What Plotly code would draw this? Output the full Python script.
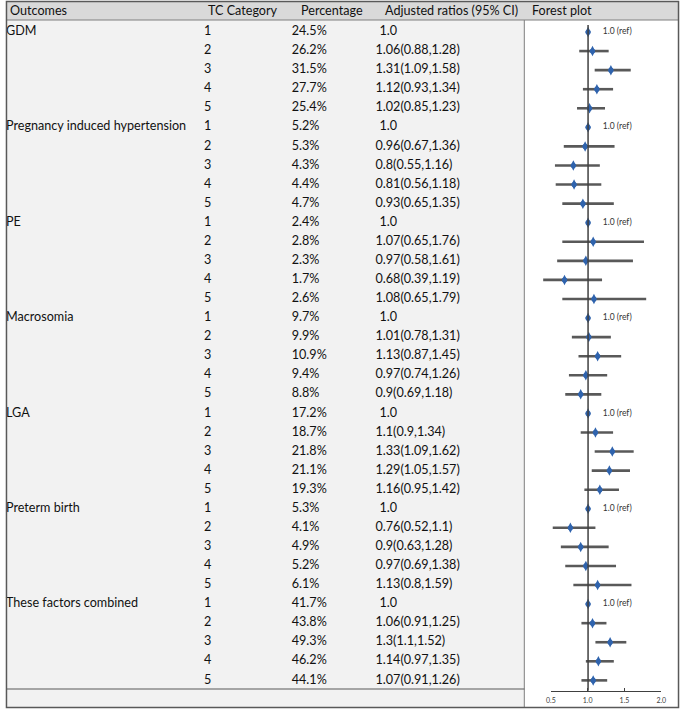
import plotly.graph_objects as go

# ---------------- data ----------------
outcomes = ["GDM", "Pregnancy induced hypertension", "PE", "Macrosomia",
            "LGA", "Preterm birth", "These factors combined"]
tc_categories = ["1", "2", "3", "4", "5"]

percentages = [
    [24.5, 26.2, 31.5, 27.7, 25.4],
    [5.2, 5.3, 4.3, 4.4, 4.7],
    [2.4, 2.8, 2.3, 1.7, 2.6],
    [9.7, 9.9, 10.9, 9.4, 8.8],
    [17.2, 18.7, 21.8, 21.1, 19.3],
    [5.3, 4.1, 4.9, 5.2, 6.1],
    [41.7, 43.8, 49.3, 46.2, 44.1],
]
ratio_est = [
    [1.0, 1.06, 1.31, 1.12, 1.02],
    [1.0, 0.96, 0.8, 0.81, 0.93],
    [1.0, 1.07, 0.97, 0.68, 1.08],
    [1.0, 1.01, 1.13, 0.97, 0.9],
    [1.0, 1.1, 1.33, 1.29, 1.16],
    [1.0, 0.76, 0.9, 0.97, 1.13],
    [1.0, 1.06, 1.3, 1.14, 1.07],
]
ci_low = [
    [None, 0.88, 1.09, 0.93, 0.85],
    [None, 0.67, 0.55, 0.56, 0.65],
    [None, 0.65, 0.58, 0.39, 0.65],
    [None, 0.78, 0.87, 0.74, 0.69],
    [None, 0.9, 1.09, 1.05, 0.95],
    [None, 0.52, 0.63, 0.69, 0.8],
    [None, 0.91, 1.1, 0.97, 0.91],
]
ci_high = [
    [None, 1.28, 1.58, 1.34, 1.23],
    [None, 1.36, 1.16, 1.18, 1.35],
    [None, 1.76, 1.61, 1.19, 1.79],
    [None, 1.31, 1.45, 1.26, 1.18],
    [None, 1.34, 1.62, 1.57, 1.42],
    [None, 1.1, 1.28, 1.38, 1.59],
    [None, 1.25, 1.52, 1.35, 1.26],
]
headers = ["Outcomes", "TC Category", "Percentage", "Adjusted ratios (95% CI)", "Forest plot"]
axis_ticks = [0.5, 1.0, 1.5, 2.0]
axis_ticklabels = ["0.5", "1.0", "1.5", "2.0"]

# ---------------- layout geometry (pixels) ----------------
W, H = 685, 710
ROW0, ROWSTEP = 32.0, 19.07          # pixel y of first row, row spacing
X_ONE, PX_PER_UNIT = 591.7, 74.67     # forest: pixel x of ratio 1.0, px per unit
FONT = "Lato"
TXT = "#111111"


def px(x):
    return x / W


def py(y):
    return 1 - y / H


y_top = -ROW0 / ROWSTEP
y_bot = (H - ROW0) / ROWSTEP
x2_lo = 1.0 - X_ONE / PX_PER_UNIT
x2_hi = 1.0 + (W - X_ONE) / PX_PER_UNIT

# flatten rows
row_idx, out_lbl, cat_lbl, pct_lbl, adj_lbl, adj_ref = [], [], [], [], [], []
est_v, err_plus, err_minus, ref_rows = [], [], [], []
r = 0
for g, name in enumerate(outcomes):
    for k, cat in enumerate(tc_categories):
        row_idx.append(r)
        out_lbl.append(name if k == 0 else "")
        cat_lbl.append(cat)
        pct_lbl.append(f"{percentages[g][k]}%")
        e, lo, hi = ratio_est[g][k], ci_low[g][k], ci_high[g][k]
        est_v.append(e)
        if lo is None:
            adj_lbl.append("")
            adj_ref.append(f"{e}")
            err_plus.append(0)
            err_minus.append(0)
            ref_rows.append(r)
        else:
            adj_lbl.append(f"{e}({lo},{hi})")
            adj_ref.append("")
            err_plus.append(hi - e)
            err_minus.append(e - lo)
        r += 1

fig = go.Figure()

tfont = dict(family=FONT, size=12.6, color=TXT)


def text_col(x, labels):
    fig.add_trace(go.Scatter(
        x=[x] * len(row_idx), y=row_idx, text=labels, mode="text",
        textposition="middle right", textfont=tfont, hoverinfo="skip",
        showlegend=False, xaxis="x", yaxis="y", cliponaxis=False))


text_col(1, out_lbl)
text_col(202, cat_lbl)
text_col(291, pct_lbl)
text_col(376, adj_lbl)
text_col(380, adj_ref)

# forest points with CIs
fig.add_trace(go.Scatter(
    x=est_v, y=row_idx, mode="markers",
    marker=dict(symbol="diamond-tall", size=7.5, color="#2f63ad",
                line=dict(width=0)),
    error_x=dict(type="data", symmetric=False, array=err_plus,
                 arrayminus=err_minus, thickness=2.6, width=0, color="#595959"),
    showlegend=False, xaxis="x2", yaxis="y", cliponaxis=False, hoverinfo="skip"))
fig.add_trace(go.Scatter(
    x=est_v, y=row_idx, mode="markers",
    marker=dict(symbol="circle", size=5.2, color="#2f63ad", line=dict(width=0)),
    showlegend=False, xaxis="x2", yaxis="y", cliponaxis=False, hoverinfo="skip"))

# ref labels
fig.add_trace(go.Scatter(
    x=[1.2] * len(ref_rows), y=ref_rows, text=["1.0 (ref)"] * len(ref_rows),
    mode="text", textposition="middle right",
    textfont=dict(family=FONT, size=8.5, color="#333333"),
    showlegend=False, xaxis="x2", yaxis="y", cliponaxis=False, hoverinfo="skip"))

# dummy trace for visible forest axis
fig.add_trace(go.Scatter(x=[1.0], y=[0], mode="markers", marker=dict(opacity=0),
                         showlegend=False, xaxis="x3", yaxis="y3", hoverinfo="skip"))

shapes = [
    # table body background
    dict(type="rect", xref="paper", yref="paper", x0=px(1), x1=px(527),
         y0=py(707), y1=py(20), fillcolor="#f2f2f2", line=dict(width=0), layer="below"),
    # header background
    dict(type="rect", xref="paper", yref="paper", x0=px(1), x1=px(684),
         y0=py(20), y1=py(1), fillcolor="#d9d9d9", line=dict(width=0), layer="below"),
    # header bottom line
    dict(type="line", xref="paper", yref="paper", x0=px(1), x1=px(684),
         y0=py(20), y1=py(20), line=dict(color="#7f7f7f", width=1)),
    # divider between table and forest
    dict(type="line", xref="paper", yref="paper", x0=px(527), x1=px(527),
         y0=py(20), y1=py(707), line=dict(color="#7f7f7f", width=1)),
    # bottom separator in table
    dict(type="line", xref="paper", yref="paper", x0=px(1), x1=px(527),
         y0=py(689), y1=py(689), line=dict(color="#595959", width=1.2)),
    # outer border
    dict(type="rect", xref="paper", yref="paper", x0=px(1.5), x1=px(683.5),
         y0=py(707.5), y1=py(1.5), line=dict(color="#595959", width=1.5)),
    # reference line at ratio 1.0
    dict(type="line", xref="x2", yref="paper", x0=1.0, x1=1.0,
         y0=py(690.7), y1=py(25), line=dict(color="#404040", width=1.5)),
]

annotations = []
hdr_x = [3, 204, 298, 384, 533]
for hx, ht in zip(hdr_x, headers):
    annotations.append(dict(x=px(hx), y=py(11), xref="paper", yref="paper",
                            text=ht, showarrow=False, xanchor="left", yanchor="middle",
                            font=dict(family=FONT, size=12.6, color=TXT)))

axis_y = (H - 690.7) / H
fig.update_layout(
    width=W, height=H, margin=dict(l=0, r=0, t=0, b=0),
    paper_bgcolor="white", plot_bgcolor="rgba(0,0,0,0)",
    xaxis=dict(domain=[0, 1], range=[0, W], visible=False, fixedrange=True),
    xaxis2=dict(domain=[0, 1], range=[x2_lo, x2_hi], visible=False,
                overlaying="x", anchor="y", fixedrange=True),
    yaxis=dict(domain=[0, 1], range=[y_bot, y_top], visible=False, fixedrange=True),
    xaxis3=dict(domain=[554 / W, 666 / W], range=[0.5, 2.0], anchor="y3",
                showline=True, linecolor="#404040", linewidth=1.3,
                ticks="inside", ticklen=3, tickwidth=1.2, tickcolor="#404040",
                tickvals=axis_ticks, ticktext=axis_ticklabels,
                ticklabelstandoff=3,
                tickfont=dict(family=FONT, size=7, color="#404040"),
                showgrid=False, zeroline=False, fixedrange=True),
    yaxis3=dict(domain=[axis_y, axis_y + 0.002], visible=False, fixedrange=True),
    shapes=shapes, annotations=annotations, showlegend=False,
)

fig.write_html(
    "out.html",
    config={"displayModeBar": False, "staticPlot": True},
    post_script="document.body.style.margin='0';document.body.style.padding='0';"
                "document.documentElement.style.overflow='hidden';",
)
